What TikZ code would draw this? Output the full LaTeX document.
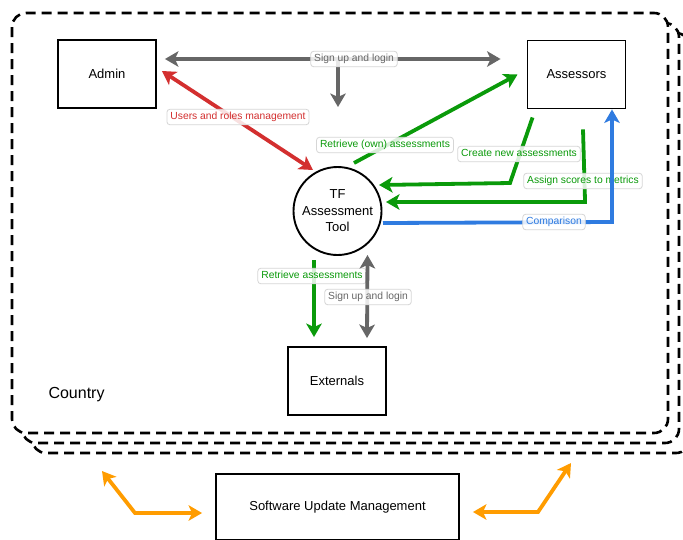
\documentclass[tikz,border=0pt]{standalone}
\usepackage{fontspec}
\setmainfont{Liberation Sans}
\usetikzlibrary{arrows.meta,calc}
\definecolor{cgray}{HTML}{666666}
\definecolor{cred}{HTML}{D32F2F}
\definecolor{cgreen}{HTML}{0A9A0A}
\definecolor{cblue}{HTML}{2F7BE0}
\definecolor{corange}{HTML}{FF9C00}
\definecolor{cborder}{HTML}{D6D6D6}
\tikzset{
  container/.style={draw=black, fill=white, line width=2.6pt, dash pattern=on 10pt off 6pt, rounded corners=14pt},
  entity/.style={draw=black, line width=1.9pt, fill=white, minimum width=98pt, minimum height=68pt, inner sep=0pt, font=\fontsize{13}{15}\selectfont},
  process/.style={draw=black, line width=1.9pt, fill=white, circle, minimum size=88pt, inner sep=0pt, align=center, font=\fontsize{13}{16.5}\selectfont},
  flow/.style={line width=3.8pt, line cap=butt},
  tipA/.tip={Stealth[length=13.5pt,width=15.5pt,inset=3.5pt]},
  oneway/.style={flow, -{tipA}},
  twoway/.style={flow, {tipA}-{tipA}},
  elabel/.style={draw=cborder, line width=0.8pt, fill=white, fill opacity=0.85, text opacity=1, rounded corners=3pt, inner xsep=3.5pt, inner ysep=3pt, text height=7.5pt, text depth=2pt, font=\fontsize{10.3}{11}\selectfont}
}
\begin{document}
\begin{tikzpicture}[x=1pt,y=-1pt]
\useasboundingbox (0,0) rectangle (683,539);
% stacked country containers
\draw[container] (32,33) rectangle (690,453);
\draw[container] (22,23) rectangle (679,443);
\draw[container] (12,13) rectangle (668,433);
\node[font=\fontsize{16}{18}\selectfont, anchor=west] (country) at (45,395) {Country};

% nodes
\node[entity] (admin) at (107,74) {Admin};
\node[entity] (assessors) at (576.5,74.5) {Assessors};
\node[process] (tf) at (337.5,211) {TF\\Assessment\\Tool};
\node[entity] (ext) at (337,381) {Externals};
\node[entity, minimum width=243pt, minimum height=66pt] (sw) at (337.5,507) {Software Update Management};

% helper coordinates
\coordinate (sj) at (338,59);
\coordinate (sjend) at (338,107);
\coordinate (cbend) at (510,183);
\coordinate (abend) at (585,200);
\coordinate (bbend) at (612,222);
\coordinate (oL1) at (102,471);
\coordinate (oL2) at (135,513);
\coordinate (oR1) at (538,512);
\coordinate (oR2) at (571,463);

% sign up and login (top)
\draw[twoway, cgray] ($(admin.east)+(8,-15)$) -- ($(assessors.west)+(-26,-15.5)$);
\draw[oneway, cgray] (sj) -- (sjend);
\node[elabel, text=cgray] (l1) at (354,59) {Sign up and login};

% users and roles management
\draw[twoway, cred] ($(admin.east)+(5,-3)$) -- ($(tf.center)+(-24.5,-41)$);
\node[elabel, text=cred] (l2) at (238,117) {Users and roles management};

% retrieve own assessments
\draw[oneway, cgreen] ($(tf.center)+(16.5,-48)$) -- ($(assessors.west)+(-9,0)$);
\node[elabel, text=cgreen] (l3) at (385,145) {Retrieve (own) assessments};

% create new assessments
\draw[oneway, cgreen] ($(assessors.south west)+(6,8)$) -- (cbend) -- ($(tf.center)+(41.5,-26)$);
\node[elabel, text=cgreen] (l4) at (519,154) {Create new assessments};

% assign scores
\draw[oneway, cgreen] ($(assessors.south)+(6.5,20)$) -- (abend) |- ($(tf.center)+(48.5,-9)$);
\node[elabel, text=cgreen] (l5) at (583,181) {Assign scores to metrics};

% comparison
\draw[oneway, cblue] ($(tf.center)+(45.5,12)$) -- (bbend) -- ($(assessors.south)+(35.5,0)$);
\node[elabel, text=cblue] (l6) at (554,222) {Comparison};

% retrieve assessments
\draw[oneway, cgreen] ($(tf.center)+(-23.5,49)$) -- ($(ext.north)+(-23,-9)$);
\node[elabel, text=cgreen] (l7) at (312,276) {Retrieve assessments};

% sign up and login (bottom)
\draw[twoway, cgray] ($(tf.center)+(30,44)$) -- ($(ext.north)+(30,-8)$);
\node[elabel, text=cgray] (l8) at (368,297) {Sign up and login};

% software update management
\draw[twoway, corange] (oL1) -- (oL2) -- ($(sw.west)+(-13,6)$);
\draw[twoway, corange] ($(sw.east)+(13,5)$) -- (oR1) -- (oR2);
\end{tikzpicture}
\end{document}
